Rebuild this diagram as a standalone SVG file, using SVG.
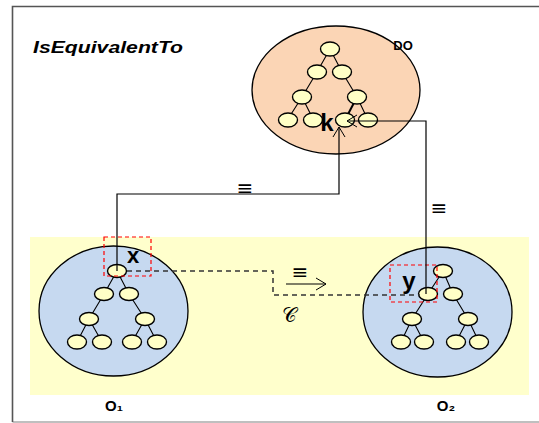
<svg xmlns="http://www.w3.org/2000/svg" width="539" height="423" viewBox="0 0 539 423">
<style>
.e{stroke:#000;stroke-width:1.1;fill:none}
.n{fill:#FFFFC6;stroke:#000;stroke-width:1.4}
.big{stroke:#000;stroke-width:1.3}
.lbl{font-family:"Liberation Sans",Arial,sans-serif;font-weight:bold;fill:#000}
.eq{font-family:"DejaVu Sans",sans-serif;font-size:20px;fill:#000;text-anchor:middle}
.red{fill:none;stroke:#FF0000;stroke-width:1.2;stroke-dasharray:4,3}
.con{fill:none;stroke:#000;stroke-width:1.2}
.dash{fill:none;stroke:#333;stroke-width:1.5;stroke-dasharray:5,4}
</style>
<defs>
<marker id="open" markerWidth="14" markerHeight="14" refX="11" refY="7" orient="auto" markerUnits="userSpaceOnUse">
<path d="M1,1 L11,7 L1,13" fill="none" stroke="#000" stroke-width="1"/>
</marker>
</defs>
<rect width="539" height="423" fill="#fff"/>
<path d="M12.5,422 H539" stroke="#aaa" stroke-width="1.5" fill="none"/>
<path d="M12.5,422 V6.5 H539" stroke="#555" stroke-width="1.6" fill="none"/>
<rect x="30" y="237" width="499" height="158" fill="#FFFFCC"/>
<text x="33" y="53" class="lbl" font-size="16" font-style="italic" textLength="150" lengthAdjust="spacingAndGlyphs">IsEquivalentTo</text>

<g id="DO">
<ellipse cx="336" cy="90" rx="84" ry="64" fill="#FBD5B5" class="big"/>
<path class="e" d="M330,49 L317,72 M330,49 L342,72 M317,72 L302,97 M342,72 L357,97 M302,97 L288,119 M302,97 L313,119 M357,97 L368,120"/>
<path d="M357,97 L345,120" stroke="#000" stroke-width="2" fill="none"/>
<ellipse class="n" cx="330" cy="49" rx="9.5" ry="7"/>
<ellipse class="n" cx="317" cy="72" rx="9.5" ry="7"/>
<ellipse class="n" cx="342" cy="72" rx="9.5" ry="7"/>
<ellipse class="n" cx="302" cy="97" rx="9.5" ry="7"/>
<ellipse class="n" cx="357" cy="97" rx="9.5" ry="7"/>
<ellipse class="n" cx="288" cy="120" rx="9.5" ry="7"/>
<ellipse class="n" cx="313" cy="120" rx="9.5" ry="7"/>
<ellipse class="n" cx="345" cy="120" rx="9.5" ry="7"/>
<ellipse class="n" cx="368" cy="120" rx="9.5" ry="7"/>
<text x="327" y="131" class="lbl" font-size="24" text-anchor="middle">k</text>
<text x="403" y="50" class="lbl" font-size="13" text-anchor="middle">DO</text>
</g>

<g id="O1">
<ellipse cx="113.5" cy="311" rx="74.5" ry="65" fill="#C6D9F0" class="big"/>
<path class="e" d="M117,271 L104,294 M117,271 L129,294 M104,294 L89,319 M129,294 L145,319 M89,319 L77,342 M89,319 L102,342 M145,319 L132,342 M145,319 L157,342"/>
<ellipse class="n" cx="117" cy="271" rx="9.5" ry="6.5"/>
<ellipse class="n" cx="104" cy="294" rx="9.5" ry="6.5"/>
<ellipse class="n" cx="129" cy="294" rx="9.5" ry="6.5"/>
<ellipse class="n" cx="89" cy="319" rx="9.5" ry="6.5"/>
<ellipse class="n" cx="145" cy="319" rx="9.5" ry="6.5"/>
<ellipse class="n" cx="77" cy="342" rx="9.5" ry="7"/>
<ellipse class="n" cx="102" cy="342" rx="9.5" ry="7"/>
<ellipse class="n" cx="132" cy="342" rx="9.5" ry="7"/>
<ellipse class="n" cx="157" cy="342" rx="9.5" ry="7"/>
<text x="133" y="263" class="lbl" font-size="22" text-anchor="middle">x</text>
<rect class="red" x="104" y="237" width="47" height="39"/>
<text x="114" y="411" class="lbl" font-size="15" text-anchor="middle">O₁</text>
</g>

<g id="O2">
<ellipse cx="437.5" cy="312" rx="74.5" ry="65" fill="#C6D9F0" class="big"/>
<path class="e" d="M443,271 L428,294 M443,271 L453,294 M428,294 L412,319 M453,294 L468,319 M412,319 L401,342 M412,319 L424,342 M468,319 L456,342 M468,319 L479,342"/>
<ellipse class="n" cx="443" cy="271" rx="9.5" ry="6.5"/>
<ellipse class="n" cx="428" cy="294" rx="9.5" ry="6.5"/>
<ellipse class="n" cx="453" cy="294" rx="9.5" ry="6.5"/>
<ellipse class="n" cx="412" cy="319" rx="9.5" ry="6.5"/>
<ellipse class="n" cx="468" cy="319" rx="9.5" ry="6.5"/>
<ellipse class="n" cx="401" cy="342" rx="9.5" ry="7"/>
<ellipse class="n" cx="424" cy="342" rx="9.5" ry="7"/>
<ellipse class="n" cx="456" cy="342" rx="9.5" ry="7"/>
<ellipse class="n" cx="479" cy="342" rx="9.5" ry="7"/>
<text x="409" y="289" class="lbl" font-size="24" text-anchor="middle">y</text>
<rect class="red" x="390" y="265" width="47" height="37"/>
<text x="446" y="411" class="lbl" font-size="15" text-anchor="middle">O₂</text>
</g>

<g id="connectors">
<path class="con" d="M117,271 V194 H339 V127" marker-end="url(#open)"/>
<path class="con" d="M426,294 V121 H347" marker-end="url(#open)"/>
<path class="dash" d="M127,271 H273 V295 H420"/>
<path class="con" d="M286,284 H326" marker-end="url(#open)"/>
<text x="245" y="195" class="eq">≡</text>
<text x="439" y="215" class="eq">≡</text>
<text x="300" y="279" class="eq">≡</text>
<text x="289" y="322" font-family="DejaVu Sans, serif" font-size="20" fill="#000" text-anchor="middle">𝒞</text>
</g>
</svg>
